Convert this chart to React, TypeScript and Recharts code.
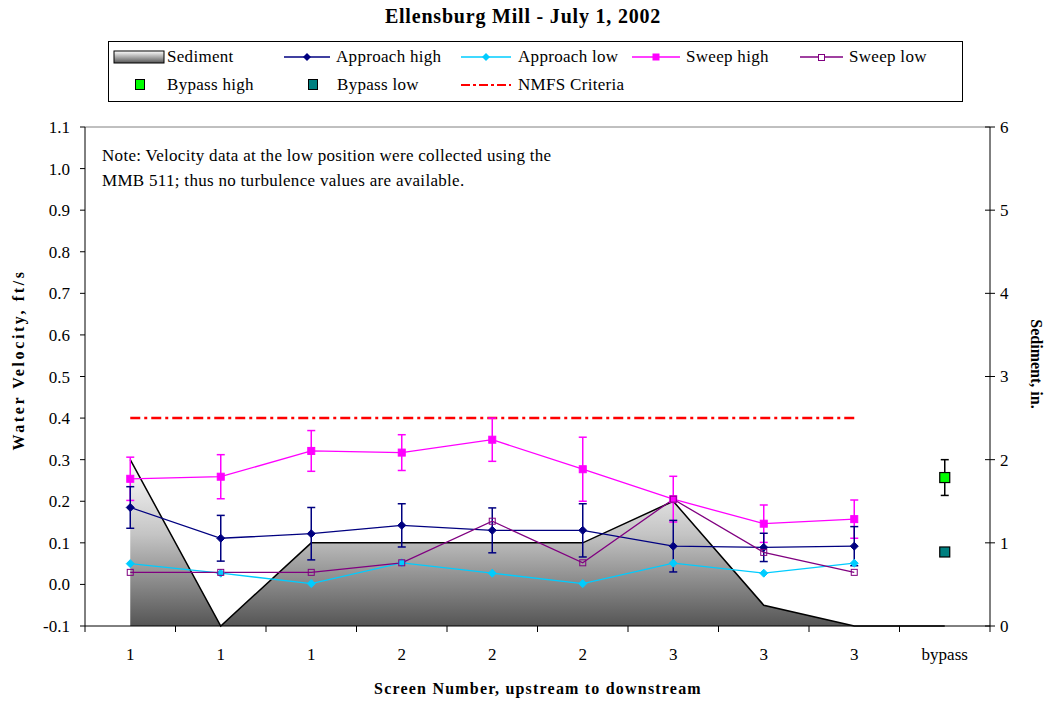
import React from "react";
import { ComposedChart, Line, Area, XAxis, YAxis, ErrorBar, ReferenceLine } from "recharts";

// screen labels along the bottom axis
const screens = ["1", "1", "1", "2", "2", "2", "3", "3", "3", "bypass"];

// sediment depth, inches (right axis)
const sediment = [2, 0, 1, 1, 1, 1, 1.5, 0.25, 0, 0];

// water velocity, ft/s (left axis)
const approachHigh = [0.185, 0.111, 0.122, 0.142, 0.13, 0.13, 0.092, 0.089, 0.092, null];
const approachHighErr = [0.05, 0.055, 0.063, 0.052, 0.054, 0.064, 0.062, 0.034, 0.047, null];
const approachLow = [0.05, 0.027, 0.002, 0.052, 0.027, 0.002, 0.051, 0.027, 0.051, null];
const sweepHigh = [0.254, 0.259, 0.321, 0.317, 0.348, 0.277, 0.205, 0.146, 0.157, null];
const sweepHighErr = [0.052, 0.053, 0.049, 0.043, 0.052, 0.077, 0.055, 0.045, 0.046, null];
const sweepLow = [0.029, 0.029, 0.029, 0.052, 0.152, 0.052, 0.205, 0.077, 0.029, null];
const bypassHigh = [null, null, null, null, null, null, null, null, null, 0.257];
const bypassHighErr = [null, null, null, null, null, null, null, null, null, 0.043];
const bypassLow = [null, null, null, null, null, null, null, null, null, 0.078];
const nmfsCriteria = [0.4, 0.4, 0.4, 0.4, 0.4, 0.4, 0.4, 0.4, 0.4, null];

const velocityTicks = [-0.1, 0, 0.1, 0.2, 0.3, 0.4, 0.5, 0.6, 0.7, 0.8, 0.9, 1.0, 1.1];
const sedimentTicks = [0, 1, 2, 3, 4, 5, 6];

const data = screens.map((s, i) => ({
  pos: i,
  screen: s,
  sediment: sediment[i],
  approachHigh: approachHigh[i],
  approachHighErr: approachHighErr[i],
  approachLow: approachLow[i],
  sweepHigh: sweepHigh[i],
  sweepHighErr: sweepHighErr[i],
  sweepLow: sweepLow[i],
  bypassHigh: bypassHigh[i],
  bypassHighErr: bypassHighErr[i],
  bypassLow: bypassLow[i],
  nmfs: nmfsCriteria[i],
}));

const FONT = "'Liberation Serif', 'Times New Roman', serif";
const HALF_BAND = 45.25;

const ok = (p: any) => p.cx != null && p.cy != null && p.value != null && !isNaN(p.cy);

const diamondDot = (color: string, r: number) => (p: any) => {
  if (!ok(p)) return <g key={p.index} />;
  const { cx, cy } = p;
  return (
    <path
      key={p.index}
      d={`M${cx},${cy - r}L${cx + r},${cy}L${cx},${cy + r}L${cx - r},${cy}Z`}
      fill={color}
      stroke={color}
    />
  );
};

const squareDot = (fill: string, stroke: string, r: number, sw = 1) => (p: any) => {
  if (!ok(p)) return <g key={p.index} />;
  return (
    <rect key={p.index} x={p.cx - r} y={p.cy - r} width={r * 2} height={r * 2} fill={fill} stroke={stroke} strokeWidth={sw} />
  );
};

// category labels centred, tick marks on the category boundaries
const ScreenTick = (props: any) => {
  const { x, y, payload, index } = props;
  const half = payload && payload.offset ? payload.offset : HALF_BAND;
  const axisY = y - 22;
  return (
    <g>
      <line x1={x - half} y1={axisY} x2={x - half} y2={axisY + 6} stroke="#000" />
      {index === screens.length - 1 && (
        <line x1={x + half} y1={axisY} x2={x + half} y2={axisY + 6} stroke="#000" />
      )}
      <text x={x} y={y} dy="0.71em" textAnchor="middle" fontSize={17} fontFamily={FONT} fill="#000">
        {screens[payload.value]}
      </text>
    </g>
  );
};

// right axis ticks cross the axis line
const SedimentTick = (props: any) => {
  const { x, y, payload } = props;
  const axisX = x - 10;
  return (
    <g>
      <line x1={axisX - 5} y1={y} x2={axisX + 5} y2={y} stroke="#000" />
      <text x={x} y={y} dy="0.35em" textAnchor="start" fontSize={17} fontFamily={FONT} fill="#000">
        {payload.value}
      </text>
    </g>
  );
};

function Overlay() {
  return (
    <svg width={1046} height={704} style={{ position: "absolute", left: 0, top: 0, pointerEvents: "none" }}>
      <defs>
        <linearGradient id="legSed" x1="0" y1="0" x2="0" y2="1">
          <stop offset="0" stopColor="#ffffff" />
          <stop offset="1" stopColor="#555555" />
        </linearGradient>
      </defs>
      <text x={523} y={23} textAnchor="middle" fontSize={20} fontWeight="bold" fontFamily={FONT} letterSpacing={0.8}>
        Ellensburg Mill - July 1, 2002
      </text>

      <rect x={108.5} y={41.5} width={854} height={60} fill="#fff" stroke="#000" />
      <g fontFamily={FONT} fontSize={17} fill="#000" letterSpacing={0.3}>
        <rect x={114} y={51} width={50} height={12} fill="url(#legSed)" stroke="#000" />
        <text x={167} y={62}>Sediment</text>

        <line x1={284} y1={57} x2={330} y2={57} stroke="#000080" strokeWidth={1.3} />
        <path d="M307,53L311,57L307,61L303,57Z" fill="#000080" />
        <text x={336} y={62}>Approach high</text>

        <line x1={461} y1={57} x2={511} y2={57} stroke="#00ccff" strokeWidth={1.3} />
        <path d="M486,53L490,57L486,61L482,57Z" fill="#00ccff" />
        <text x={518} y={62}>Approach low</text>

        <line x1={632} y1={57} x2={680} y2={57} stroke="#ff00ff" strokeWidth={1.3} />
        <rect x={652.5} y={53.5} width={7} height={7} fill="#ff00ff" />
        <text x={686} y={62}>Sweep high</text>

        <line x1={800} y1={57} x2={843} y2={57} stroke="#800080" strokeWidth={1.3} />
        <rect x={818.5} y={54.5} width={6} height={6} fill="#fff" stroke="#800080" />
        <text x={849} y={62}>Sweep low</text>

        <rect x={135.5} y={79.5} width={9} height={10} fill="#00ff00" stroke="#000" />
        <text x={167} y={90}>Bypass high</text>

        <rect x={308.5} y={79.5} width={9} height={10} fill="#008080" stroke="#000" />
        <text x={337} y={90}>Bypass low</text>

        <line x1={461} y1={85} x2={511} y2={85} stroke="#ff0000" strokeWidth={2} strokeDasharray="9 3 3 3" />
        <text x={518} y={90}>NMFS Criteria</text>
      </g>

      <g fontFamily={FONT} fontSize={17} fill="#000" letterSpacing={0.3}>
        <text x={102} y={161}>Note: Velocity data at the low position were collected using the</text>
        <text x={102} y={186}>MMB 511; thus no turbulence values are available.</text>
      </g>

      <text
        transform="translate(24,360) rotate(-90)"
        textAnchor="middle"
        fontSize={16}
        fontWeight="bold"
        fontFamily={FONT}
        letterSpacing={2.6}
      >
        Water Velocity, ft/s
      </text>
      <text
        transform="translate(1031,364) rotate(90)"
        textAnchor="middle"
        fontSize={16}
        fontWeight="bold"
        fontFamily={FONT}
      >
        Sediment, in.
      </text>
      <text x={538} y={694} textAnchor="middle" fontSize={16} fontWeight="bold" fontFamily={FONT} letterSpacing={1.2}>
        Screen Number, upstream to downstream
      </text>
    </svg>
  );
}

export default function App() {
  return (
    <div style={{ position: "absolute", left: 0, top: 0, width: 1046, height: 704, background: "#fff" }}>
      <ComposedChart width={1046} height={704} data={data} margin={{ top: 127, right: 26, bottom: 38, left: 30 }}>
        <defs>
          <linearGradient id="sedFill" x1="0" y1="0" x2="0" y2="1">
            <stop offset="0" stopColor="#ffffff" />
            <stop offset="0.45" stopColor="#c4c4c4" />
            <stop offset="1" stopColor="#555555" />
          </linearGradient>
        </defs>
        <XAxis
          dataKey="pos"
          type="category"
          height={40}
          stroke="#000"
          tickLine={false}
          tickSize={6}
          tickMargin={16}
          tick={<ScreenTick />}
          interval={0}
          padding={{ left: HALF_BAND, right: HALF_BAND }}
        />
        <YAxis
          yAxisId="left"
          width={55}
          domain={[-0.1, 1.1]}
          ticks={velocityTicks}
          tickFormatter={(v: number) => v.toFixed(1)}
          stroke="#000"
          tickSize={5}
          tickMargin={10}
          tick={{ fill: "#000", fontSize: 17, fontFamily: FONT }}
          interval={0}
          allowDataOverflow
        />
        <YAxis
          yAxisId="right"
          orientation="right"
          width={30}
          domain={[0, 6]}
          ticks={sedimentTicks}
          stroke="#000"
          tickLine={false}
          tickSize={5}
          tickMargin={5}
          tick={<SedimentTick />}
          interval={0}
        />
        <ReferenceLine yAxisId="left" y={1.1} stroke="#808080" />
        <Area
          yAxisId="right"
          dataKey="sediment"
          type="linear"
          stroke="#000"
          strokeWidth={1.5}
          fill="url(#sedFill)"
          fillOpacity={1}
          isAnimationActive={false}
        />
        <Line
          yAxisId="left"
          dataKey="nmfs"
          stroke="#ff0000"
          strokeWidth={2.5}
          strokeDasharray="10 4 3 4"
          dot={false}
          isAnimationActive={false}
        />
        <Line
          yAxisId="left"
          dataKey="sweepHigh"
          stroke="#ff00ff"
          strokeWidth={1.3}
          dot={squareDot("#ff00ff", "#ff00ff", 3.5)}
          activeDot={false}
          isAnimationActive={false}
        >
          <ErrorBar dataKey="sweepHighErr" width={4} stroke="#ff00ff" strokeWidth={1.5} />
        </Line>
        <Line
          yAxisId="left"
          dataKey="approachHigh"
          stroke="#000080"
          strokeWidth={1.3}
          dot={diamondDot("#000080", 4)}
          activeDot={false}
          isAnimationActive={false}
        >
          <ErrorBar dataKey="approachHighErr" width={4} stroke="#000080" strokeWidth={1.5} />
        </Line>
        <Line
          yAxisId="left"
          dataKey="approachLow"
          stroke="#00ccff"
          strokeWidth={1.3}
          dot={diamondDot("#00ccff", 4)}
          activeDot={false}
          isAnimationActive={false}
        />
        <Line
          yAxisId="left"
          dataKey="sweepLow"
          stroke="#800080"
          strokeWidth={1.3}
          dot={squareDot("none", "#800080", 3)}
          activeDot={false}
          isAnimationActive={false}
        />
        <Line
          yAxisId="left"
          dataKey="bypassHigh"
          stroke="none"
          dot={squareDot("#00ff00", "#000", 5, 1.2)}
          activeDot={false}
          isAnimationActive={false}
        >
          <ErrorBar dataKey="bypassHighErr" width={4} stroke="#000" strokeWidth={1.5} />
        </Line>
        <Line
          yAxisId="left"
          dataKey="bypassLow"
          stroke="none"
          dot={squareDot("#008080", "#000", 5, 1.2)}
          activeDot={false}
          isAnimationActive={false}
        />
      </ComposedChart>
      <Overlay />
    </div>
  );
}
